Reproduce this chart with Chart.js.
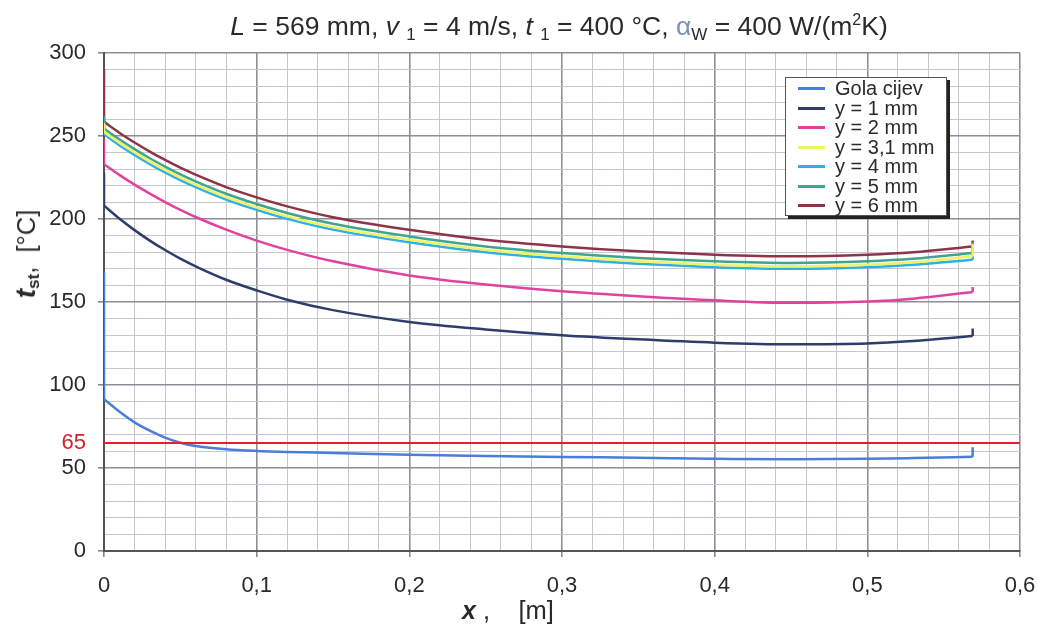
<!DOCTYPE html>
<html>
<head>
<meta charset="utf-8">
<script src="https://cdn.jsdelivr.net/npm/chart.js@4/dist/chart.umd.min.js"></script>
<style>
  html, body { margin: 0; padding: 0; background: #ffffff; }
  #wrap { position: relative; width: 1038px; height: 627px; font-family: "Liberation Sans", Arial, sans-serif; color: #2a2a2a; }
  #c { position: absolute; left: 0; top: 0; }
  #title { position: absolute; left: 0; width: 1118px; top: 11px; text-align: center; font-size: 26.5px; white-space: nowrap; }
  #title sub { font-size: 17px; vertical-align: -5px; }
  #title sup { font-size: 16px; vertical-align: 10px; }
  #ylab { position: absolute; left: 27px; top: 254px; transform: translate(-50%, -50%) rotate(-90deg); font-size: 25.5px; white-space: nowrap; }
  #ylab sub { font-size: 17px; font-weight: bold; vertical-align: -4px; }
  #xlab { position: absolute; left: 462px; top: 596px; font-size: 25.5px; white-space: nowrap; }
  #legend { position: absolute; left: 785px; top: 77px; width: 162px; height: 139px; background: #fff; border: 1px solid #555; box-shadow: 3px 3px 0 #222; box-sizing: border-box; padding-top: 1px; }
  .li { display: flex; align-items: center; height: 19.5px; font-size: 20px; }
  .sw { width: 27px; height: 3px; margin-left: 12px; margin-right: 10px; }
</style>
</head>
<body>
<div id="wrap">
  <canvas id="c" width="1038" height="627"></canvas>
  <div id="title"><i>L</i> = 569 mm, <i>v</i> <sub>1</sub> = 4 m/s, <i>t</i> <sub>1</sub> = 400 °C, <span style="color:#7f8fb8">α</span><sub>W</sub> = 400 W/(m<sup>2</sup>K)</div>
  <div id="ylab"><b><i style="font-size:28px">t</i><sub>st</sub></b>,&nbsp;&nbsp;[°C]</div>
  <div id="xlab"><b><i style="font-size:25px">x</i></b> ,&nbsp;&nbsp;&nbsp;&nbsp;[m]</div>
  <div id="legend"></div>
</div>
<script>
// ---- data ----
const xValues = [0, 0.01, 0.02, 0.03, 0.04, 0.05, 0.06, 0.08, 0.1, 0.12, 0.15, 0.2, 0.25, 0.3, 0.35, 0.4, 0.45, 0.5, 0.53, 0.569];
const golaCijev = [91.5, 84, 77.5, 72.5, 68.3, 65.2, 63.2, 61.3, 60.3, 59.7, 59.1, 58, 57.3, 56.7, 56.2, 55.6, 55.2, 55.5, 56, 56.8];
const y1mm = [208, 200.3, 193.3, 187, 181.3, 176.1, 171.5, 163.4, 157, 151.4, 145.1, 138, 133.5, 130, 127.5, 125.5, 124.5, 125, 126.5, 129.5];
const y2mm = [233, 226.6, 220.7, 215.3, 210.2, 205.5, 201.2, 193.6, 187, 181.4, 174.5, 166, 160.5, 156.5, 153.5, 151, 149.5, 150.3, 152, 156];
const y3_1mm = [252.5, 246, 240.1, 234.6, 229.6, 224.9, 220.7, 213.2, 207, 201.6, 195.1, 187.5, 181.5, 177.5, 174.5, 172.5, 171.5, 172.5, 174, 177.5];
const y4mm = [251, 244.5, 238.6, 233.1, 228.1, 223.4, 219.2, 211.7, 205.5, 200.1, 193.6, 186, 180, 176, 173, 171, 170, 171, 172.5, 175.5];
const y5mm = [254.5, 248, 242.1, 236.6, 231.6, 226.9, 222.7, 215.2, 209, 203.6, 197.1, 189.5, 183.5, 179.5, 176.5, 174.5, 173.5, 174.5, 176, 179.5];
const y6mm = [258.5, 252, 246.1, 240.6, 235.6, 230.9, 226.7, 219.2, 213, 207.6, 201.1, 193.5, 187.5, 183.5, 180.5, 178.5, 177.5, 178.5, 180, 183.5];
// short vertical jumps at the inlet (x = 0) and at the end (x = L)
const inletPeak = [168, 228, 248, 258, 257, 262, 290];
const outletPeak = [62.5, 134, 159, 185, 184, 186, 187];
const limitValue = 65;
const seriesNames = ["Gola cijev", "y = 1 mm", "y = 2 mm", "y = 3,1 mm", "y = 4 mm", "y = 5 mm", "y = 6 mm"];
const seriesData = [golaCijev, y1mm, y2mm, y3_1mm, y4mm, y5mm, y6mm];
const seriesColors = ["#4a7ed8", "#2f3d6c", "#e0429f", "#f2f264", "#2fb0e4", "#3ea591", "#8e3447"];
const xTickLabels = ["0", "0,1", "0,2", "0,3", "0,4", "0,5", "0,6"];
const yTickLabels = ["0", "50", "100", "150", "200", "250", "300"];

const datasets = [{
  label: "limit", data: [{ x: 0, y: limitValue }, { x: 0.6, y: limitValue }],
  borderColor: "#e3202c", borderWidth: 2, pointRadius: 0, fill: false
}];
seriesData.forEach((d, i) => {
  const last = xValues[xValues.length - 1];
  datasets.push({
    label: seriesNames[i] + " inlet", data: [{ x: 0, y: d[0] }, { x: 0, y: inletPeak[i] }],
    borderColor: seriesColors[i], borderWidth: 2.5, pointRadius: 0, fill: false
  });
  datasets.push({
    label: seriesNames[i] + " outlet", data: [{ x: last, y: d[d.length - 1] }, { x: last, y: outletPeak[i] }],
    borderColor: seriesColors[i], borderWidth: 2.5, pointRadius: 0, fill: false
  });
  datasets.push({
    label: seriesNames[i], data: d.map((v, k) => ({ x: xValues[k], y: v })), borderColor: seriesColors[i],
    borderWidth: 2.5, pointRadius: 0, fill: false, cubicInterpolationMode: "monotone"
  });
});

// HTML legend
const leg = document.getElementById("legend");
seriesNames.forEach((n, i) => {
  const row = document.createElement("div"); row.className = "li";
  const sw = document.createElement("div"); sw.className = "sw"; sw.style.background = seriesColors[i];
  const t = document.createElement("span"); t.textContent = n;
  row.appendChild(sw); row.appendChild(t); leg.appendChild(row);
});

const isMajorX = v => Math.abs(v * 10 - Math.round(v * 10)) < 1e-6;
const isMajorY = v => Math.abs(v / 50 - Math.round(v / 50)) < 1e-6;
const tickFont = { family: "'Liberation Sans', Arial, sans-serif", size: 22 };

new Chart(document.getElementById("c"), {
  type: "line",
  data: { datasets },
  options: {
    responsive: false, animation: false,
    layout: { padding: { top: 53, right: 18, left: 0, bottom: 0 } },
    plugins: { legend: { display: false }, tooltip: { enabled: false }, title: { display: false } },
    scales: {
      x: {
        type: "linear", min: 0, max: 0.6,
        afterFit: s => { s.height = 76; s.paddingRight = 0; s.paddingLeft = 0; },
        ticks: {
          stepSize: 0.02, autoSkip: false, maxRotation: 0, padding: 16, font: tickFont, color: "#2a2a2a",
          callback: v => isMajorX(v) ? xTickLabels[Math.round(v * 10)] : ""
        },
        grid: {
          color: c => isMajorX(c.tick.value) ? "#8e8e96" : "#c6c6ce",
          lineWidth: c => isMajorX(c.tick.value) ? 1.6 : 1,
          tickLength: 6,
          tickColor: c => (c.tick && isMajorX(c.tick.value)) ? "#888" : "rgba(0,0,0,0)"
        },
        border: { color: "#555", width: 2 }
      },
      y: {
        min: 0, max: 300,
        afterFit: s => { s.width = 104; s.paddingTop = 0; s.paddingBottom = 0; },
        afterBuildTicks: s => {
          s.ticks.push({ value: limitValue });
          s.ticks.sort((a, b) => a.value - b.value);
        },
        ticks: {
          stepSize: 10, autoSkip: false, padding: 12, font: tickFont,
          color: c => (c.tick && c.tick.value === limitValue) ? "#d8202c" : "#2a2a2a",
          callback: v => v === limitValue ? String(limitValue) : (isMajorY(v) ? yTickLabels[Math.round(v / 50)] : "")
        },
        grid: {
          color: c => c.tick.value === limitValue ? "rgba(0,0,0,0)" : (isMajorY(c.tick.value) ? "#8e8e96" : "#c6c6ce"),
          lineWidth: c => isMajorY(c.tick.value) ? 1.6 : 1,
          tickLength: 6,
          tickColor: c => (c.tick && isMajorY(c.tick.value) && c.tick.value !== limitValue) ? "#888" : "rgba(0,0,0,0)"
        },
        border: { color: "#555", width: 2 }
      }
    }
  }
});
</script>
</body>
</html>
